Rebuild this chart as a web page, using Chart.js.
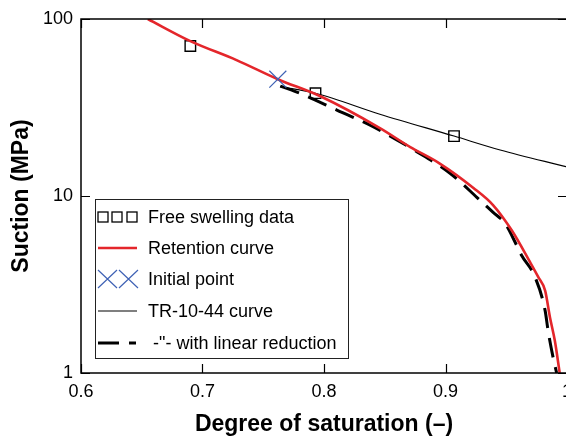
<!DOCTYPE html>
<html>
<head>
<meta charset="utf-8">
<style>
  html, body { margin: 0; padding: 0; overflow: hidden; background: #fff; }
  #wrap { width: 600px; height: 436px; }
</style>
<script src="https://cdn.jsdelivr.net/npm/chart.js@4/dist/chart.umd.min.js"></script>
</head>
<body>
<div id="wrap"><canvas id="c" width="600" height="436"></canvas></div>
<script>
// Free swelling measurements
const freeSwellSat = [0.690, 0.793, 0.907];
const freeSwellSuction = [70.4, 38.1, 21.8];

// Retention curve
const retentionSat = [0.655, 0.690, 0.728, 0.762, 0.797, 0.846, 0.871, 0.895, 0.923, 0.9393, 0.9545, 0.9695, 0.9764, 0.982, 0.986, 0.990, 0.994];
const retentionSuction = [100, 75, 58.6, 45.7, 36.6, 24.2, 18.9, 15.3, 11.1, 8.86, 6.40, 4.24, 3.48, 2.92, 2.06, 1.52, 1.0];

// Initial state
const initialSat = [0.762];
const initialSuction = [45.7];

// TR-10-44 curve
const trSat = [0.764, 0.793, 0.846, 0.907, 0.945, 1.0];
const trSuction = [41.5, 38.1, 29.0, 21.8, 18.2, 14.6];

// TR-10-44 curve with linear reduction
const reducedSat = [0.764, 0.782, 0.811, 0.838, 0.877, 0.904, 0.926, 0.939, 0.949, 0.9586, 0.9627, 0.9737, 0.982, 0.9844, 0.9885, 0.9915];
const reducedSuction = [41.8, 37.6, 30.5, 25.1, 17.7, 13.4, 9.8, 8.1, 7.0, 5.26, 4.61, 3.48, 2.25, 1.74, 1.23, 1.0];

const seriesLabels = ['Free swelling data', 'Retention curve', 'Initial point', 'TR-10-44 curve', ' -"- with linear reduction'];

const xTickValues = [0.6, 0.7, 0.8, 0.9, 1.0];
const xTickLabels = ['0.6', '0.7', '0.8', '0.9', '1'];
const yTickValues = [1, 10, 100];
const yTickLabels = ['1', '10', '100'];

const RED = '#e4262b';
const BLUE = '#3f62b5';

const pts = (xs, ys) => xs.map((x, i) => ({ x, y: ys[i] }));

Chart.defaults.font.family = "'Liberation Sans', Arial, sans-serif";
Chart.defaults.color = '#000';

// Plot frame with inward tick marks on all four sides
const frame = {
  id: 'frame',
  afterDatasetsDraw(chart) {
    const { ctx, chartArea: a, scales: { x, y } } = chart;
    ctx.save();
    ctx.strokeStyle = '#000';
    ctx.lineWidth = 1.5;
    ctx.strokeRect(a.left, a.top, a.right - a.left, a.bottom - a.top);
    ctx.lineWidth = 1.2;
    ctx.beginPath();
    x.ticks.forEach(t => {
      const px = Math.round(x.getPixelForValue(t.value)) + 0.5;
      ctx.moveTo(px, a.bottom); ctx.lineTo(px, a.bottom - 9);
      ctx.moveTo(px, a.top); ctx.lineTo(px, a.top + 9);
    });
    y.ticks.forEach(t => {
      const py = Math.round(y.getPixelForValue(t.value)) + 0.5;
      ctx.moveTo(a.left, py); ctx.lineTo(a.left + 9, py);
      ctx.moveTo(a.right, py); ctx.lineTo(a.right - 9, py);
    });
    ctx.stroke();
    ctx.restore();
  }
};

// Boxed legend in the lower-left corner of the plot
const boxLegend = {
  id: 'boxLegend',
  afterDraw(chart) {
    const { ctx } = chart;
    const bx = 95, by = 199, bw = 253, bh = 159;
    const rows = [217, 248, 279, 311, 343];
    const sx0 = 98, sx1 = 137, tx = 148;
    ctx.save();
    ctx.fillStyle = '#fff';
    ctx.fillRect(bx, by, bw, bh);
    ctx.strokeStyle = '#222';
    ctx.lineWidth = 1;
    ctx.strokeRect(bx + 0.5, by + 0.5, bw, bh);

    // squares
    ctx.strokeStyle = '#000';
    ctx.lineWidth = 1.3;
    [103, 117, 132].forEach(cx => ctx.strokeRect(cx - 5, rows[0] - 5, 10, 10));

    // red line
    ctx.strokeStyle = RED; ctx.lineWidth = 2.5;
    ctx.beginPath(); ctx.moveTo(sx0, rows[1]); ctx.lineTo(sx1, rows[1]); ctx.stroke();

    // crosses
    ctx.strokeStyle = BLUE; ctx.lineWidth = 1.2;
    ctx.beginPath();
    [107.5, 128.5].forEach(cx => {
      ctx.moveTo(cx - 9.5, rows[2] - 9); ctx.lineTo(cx + 9.5, rows[2] + 9);
      ctx.moveTo(cx - 9.5, rows[2] + 9); ctx.lineTo(cx + 9.5, rows[2] - 9);
    });
    ctx.stroke();

    // thin line
    ctx.strokeStyle = '#000'; ctx.lineWidth = 1.1;
    ctx.beginPath(); ctx.moveTo(sx0, rows[3]); ctx.lineTo(sx1, rows[3]); ctx.stroke();

    // dashed line
    ctx.lineWidth = 3;
    ctx.beginPath();
    ctx.moveTo(sx0, rows[4]); ctx.lineTo(119, rows[4]);
    ctx.moveTo(129, rows[4]); ctx.lineTo(136, rows[4]);
    ctx.stroke();

    ctx.fillStyle = '#000';
    ctx.font = "18px 'Liberation Sans', Arial, sans-serif";
    ctx.textBaseline = 'middle';
    seriesLabels.forEach((t, i) => ctx.fillText(t, tx, rows[i] + 1));
    ctx.restore();
  }
};

new Chart(document.getElementById('c'), {
  type: 'scatter',
  data: {
    datasets: [
      {
        label: seriesLabels[2],
        data: pts(initialSat, initialSuction),
        pointStyle: 'crossRot', pointRadius: 12, pointBorderWidth: 1.2,
        borderColor: BLUE, backgroundColor: BLUE, showLine: false, order: 0
      },
      {
        label: seriesLabels[1],
        data: pts(retentionSat, retentionSuction),
        showLine: true, borderColor: RED, borderWidth: 2.6, pointRadius: 0,
        cubicInterpolationMode: 'monotone', order: 1
      },
      {
        label: seriesLabels[4],
        data: pts(reducedSat, reducedSuction),
        showLine: true, borderColor: '#000', borderWidth: 3, borderDash: [20, 10],
        pointRadius: 0, cubicInterpolationMode: 'monotone', order: 2
      },
      {
        label: seriesLabels[3],
        data: pts(trSat, trSuction),
        showLine: true, borderColor: '#000', borderWidth: 1.1, pointRadius: 0,
        cubicInterpolationMode: 'monotone', order: 3
      },
      {
        label: seriesLabels[0],
        data: pts(freeSwellSat, freeSwellSuction),
        pointStyle: 'rect', pointRadius: 7.4, pointBorderWidth: 1.4,
        borderColor: '#000', backgroundColor: 'rgba(255,255,255,0)', showLine: false, order: 4
      }
    ]
  },
  options: {
    responsive: false,
    animation: false,
    devicePixelRatio: 1,
    layout: { padding: { top: 19, right: 33, bottom: 0, left: 0 } },
    plugins: { legend: { display: false }, tooltip: { enabled: false } },
    scales: {
      x: {
        type: 'linear', min: 0.6, max: 1.0,
        grid: { display: false, drawTicks: false },
        border: { display: false },
        afterBuildTicks: s => { s.ticks = xTickValues.map(v => ({ value: v })); },
        afterFit: s => { s.height = 63; },
        ticks: {
          padding: 8,
          font: { size: 18 },
          maxRotation: 0,
          callback: (v, i) => xTickLabels[i]
        },
        title: {
          display: true, text: 'Degree of saturation (–)',
          font: { size: 23, weight: 'bold', lineHeight: 1 },
          padding: { top: 0, bottom: 0 }
        }
      },
      y: {
        type: 'logarithmic', min: 1, max: 100,
        grid: { display: false, drawTicks: false },
        border: { display: false },
        afterBuildTicks: s => { s.ticks = yTickValues.map(v => ({ value: v })); },
        afterFit: s => { s.width = 81; },
        ticks: {
          padding: 8,
          font: { size: 18 },
          callback: (v, i) => yTickLabels[i]
        },
        title: {
          display: true, text: 'Suction (MPa)',
          font: { size: 23, weight: 'bold' },
          padding: { top: 8, bottom: 0 }
        }
      }
    }
  },
  plugins: [frame, boxLegend]
});
</script>
</body>
</html>
